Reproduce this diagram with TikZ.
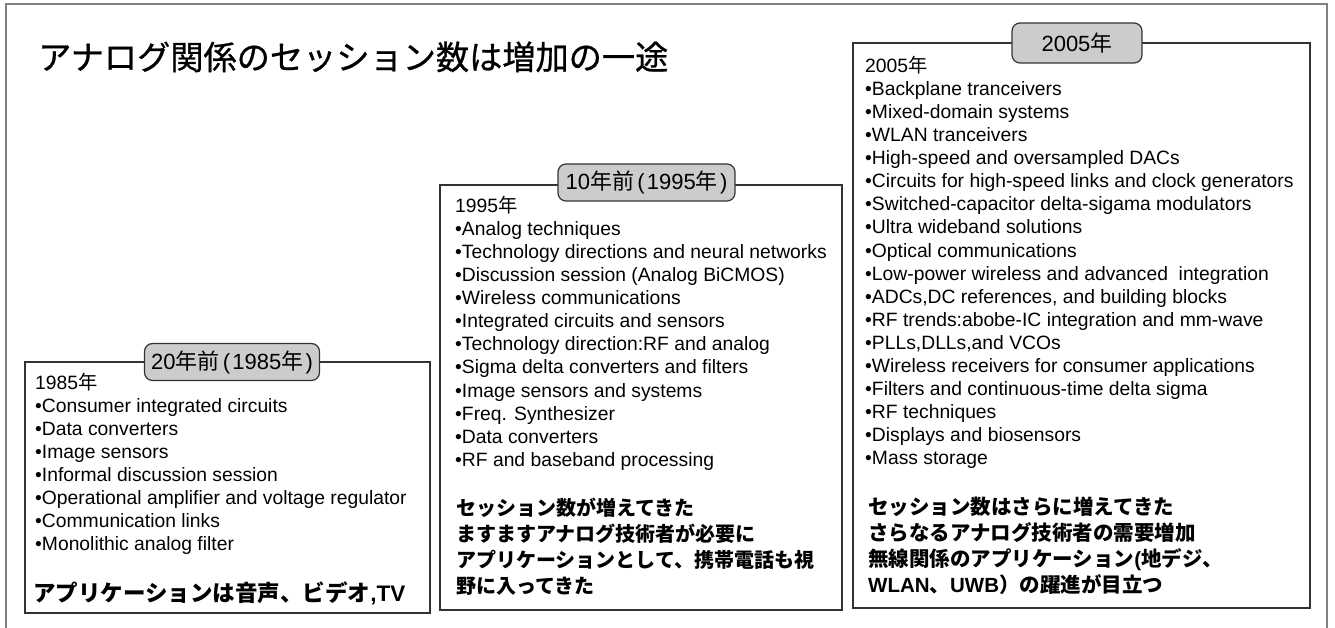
\documentclass[tikz,border=0pt]{standalone}
\usepackage{fontspec}
\setmainfont{Liberation Sans}
\newfontfamily\jp{Noto Sans CJK JP}
\newfontfamily\jphead[FakeBold=0.8]{Noto Sans CJK JP}
\newfontfamily\ar{Liberation Sans}
\newcommand\nen{{\jp 年}}
\newcommand\lp{\hspace{0.15em}{\ar (}\hspace{0.1em}}
\newcommand\rp{\hspace{0.1em}{\ar )}\hspace{0.15em}}

\tikzset{
  era/.style={draw=black!80, line width=1.4pt, inner sep=0pt},
  tag/.style={draw=black!80, line width=1.2pt, fill=black!20, rounded corners=8pt, inner sep=0pt,
    font=\jp\fontsize{22}{26}\selectfont},
  items/.style={anchor=north west, inner sep=0pt, align=left, font=\fontsize{19.3}{23.1}\selectfont},
  note/.style={anchor=north west, inner sep=0pt, align=left, font=\jp\bfseries\fontsize{20.5}{25.8}\selectfont},
}

\begin{document}
\begin{tikzpicture}[x=1pt, y=-1pt]
        \useasboundingbox (0,0) rectangle (1335,628);
        \draw[black!50, line width=2pt] (5.5,628) -- (5.5,4) -- (1327,4) -- (1327,628);

        \node[anchor=base west, inner sep=0pt, font=\jphead\fontsize{33.2}{40}\selectfont] (title) at (38,69.5) {アナログ関係のセッション数は増加の一途};

        % the three eras
        \node[era, minimum width=405pt, minimum height=251pt] (b85) at (227.5,487.5) {};
        \node[era, minimum width=402pt, minimum height=425pt] (b95) at (641,397.5) {};
        \node[era, minimum width=457pt, minimum height=565pt] (b05) at (1081.5,325.5) {};

        \node[tag, minimum width=175pt, minimum height=37pt] (t85) at (232,362) {{\ar 20}年前\lp{\ar 1985}年\rp};
        \node[tag, minimum width=177pt, minimum height=37pt] (t95) at (646.5,182.5) {{\ar 10}年前\lp{\ar 1995}年\rp};
        \node[tag, minimum width=130pt, minimum height=40pt] (t05) at (1077,43) {{\ar 2005}年};

        % session lists
        \node[items] (l85) at (35,372.8) {\strut 1985\nen\\
            •Consumer integrated circuits\\
            •Data converters\\
            •Image sensors\\
            •Informal discussion session\\
            •Operational amplifier and voltage regulator\\
            •Communication links\\
            •Monolithic analog filter};
        \node[items] (l95) at (455,195.8) {\strut 1995\nen\\
            •Analog techniques\\
            •Technology directions and neural networks\\
            •Discussion session (Analog BiCMOS)\\
            •Wireless communications\\
            •Integrated circuits and sensors\\
            •Technology direction:RF and analog\\
            •Sigma delta converters and filters\\
            •Image sensors and systems\\
            •Freq. Synthesizer\\
            •Data converters\\
            •RF and baseband processing};
        \node[items] (l05) at (865,55.8) {\strut 2005\nen\\
            •Backplane tranceivers\\
            •Mixed-domain systems\\
            •WLAN tranceivers\\
            •High-speed and oversampled DACs\\
            •Circuits for high-speed links and clock generators\\
            •Switched-capacitor delta-sigama modulators\\
            •Ultra wideband solutions\\
            •Optical communications\\
            •Low-power wireless and advanced\ \ integration\\
            •ADCs,DC references, and building blocks\\
            •RF trends:abobe-IC integration and mm-wave\\
            •PLLs,DLLs,and VCOs\\
            •Wireless receivers for consumer applications\\
            •Filters and continuous-time delta sigma\\
            •RF techniques\\
            •Displays and biosensors\\
            •Mass storage};

        % comments at the bottom
        \node[note, font=\jp\bfseries\fontsize{22.5}{25.8}\selectfont] (n85) at (33,581.2) {\strut アプリケーションは音声、ビデオ{\ar\bfseries ,TV}};
        \node[note, font=\jp\bfseries\fontsize{20}{25.8}\selectfont] (n95) at (456,497.6) {\strut セッション数が増えてきた\\
            ますますアナログ技術者が必要に\\
            アプリケーションとして、携帯電話も視\\
            野に入ってきた};
        \node[note] (n05) at (868,496.4) {\strut セッション数はさらに増えてきた\\
            さらなるアナログ技術者の需要増加\\
            無線関係のアプリケーション{\ar\bfseries (}地デジ、\\
            {\ar\bfseries WLAN}、{\ar\bfseries UWB}）の躍進が目立つ};
    \end{tikzpicture}
\end{document}
